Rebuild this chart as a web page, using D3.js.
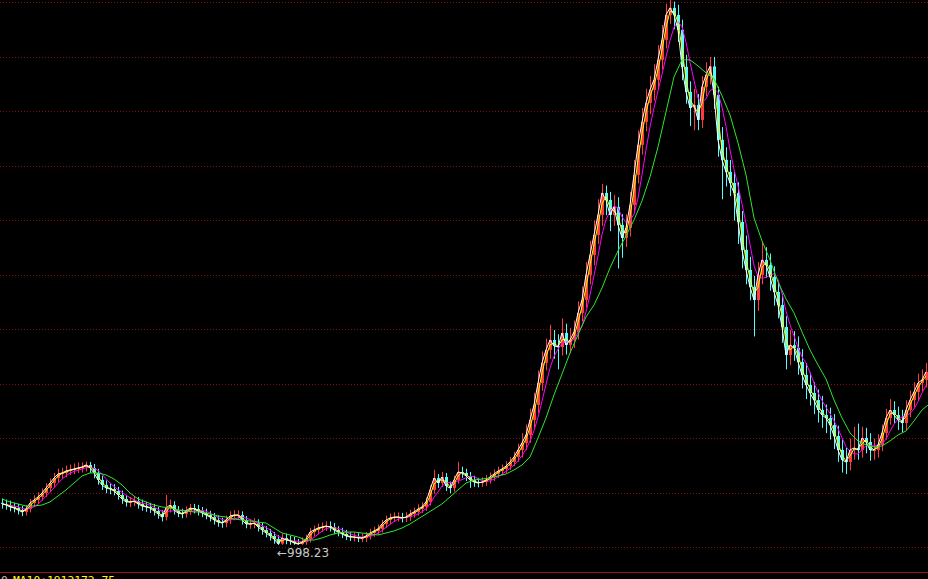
<!DOCTYPE html>
<html><head><meta charset="utf-8">
<script src="https://cdn.jsdelivr.net/npm/d3@7"></script>
<style>html,body{margin:0;padding:0;background:#000;overflow:hidden}</style>
</head><body>
<svg id="c" width="928" height="579"></svg>
<script>
// Index closes (one candle ~ 6 trading days), late 2003 .. spring 2009
const firstOpen = 1395;
const closes = [1384,1374,1356,1346,1327,1309,1337,1393,1421,1450,
1487,1534,1581,1628,1666,1676,1694,1704,1713,1723,
1732,1751,1723,1676,1610,1563,1534,1525,1506,1469,
1431,1403,1403,1412,1384,1365,1356,1346,1318,1290,
1261,1346,1374,1327,1299,1290,1318,1346,1337,1318,
1299,1280,1261,1233,1214,1205,1233,1271,1280,1280,
1233,1196,1196,1205,1167,1139,1111,1083,1054,1010,
1064,1045,1036,1017,1007,1026,1054,1120,1139,1158,
1167,1177,1167,1139,1120,1102,1083,1073,1073,1064,
1064,1083,1111,1130,1149,1196,1233,1252,1261,1261,
1252,1261,1290,1309,1337,1356,1403,1516,1628,1581,
1638,1553,1534,1610,1685,1676,1647,1610,1591,1581,
1591,1610,1638,1666,1694,1713,1741,1779,1826,1892,
1958,2033,2174,2315,2522,2711,2833,2927,2871,2861,
2993,2880,2927,3002,3181,3303,3539,3727,3915,4103,
4310,4244,4103,4179,4009,3887,3981,4197,4480,4762,
4978,5157,5280,5374,5562,5750,5985,6051,5985,5844,
5496,5261,5110,5138,4997,5308,5421,5500,5233,4809,
4621,4508,4404,4310,4037,3774,3586,3426,3303,3539,
3680,3633,3520,3379,3256,3049,2786,2880,2852,2720,
2598,2504,2428,2362,2268,2221,2193,2127,2024,1892,
1798,1779,1892,1911,1892,2005,1967,1892,1892,1939,
2052,2193,2268,2221,2174,2146,2268,2362,2438,2522,
2551,2626];
const highs = [1435,1425,1415,1395,1385,1365,1375,1430,1465,1495,
1530,1580,1625,1675,1715,1725,1745,1755,1765,1775,
1775,1783,1780,1760,1715,1650,1605,1580,1570,1545,
1510,1470,1450,1455,1450,1425,1405,1395,1385,1355,
1325,1470,1425,1410,1365,1340,1360,1385,1385,1375,
1355,1340,1320,1300,1275,1255,1275,1315,1325,1325,
1315,1270,1240,1250,1240,1205,1175,1150,1120,1090,
1105,1105,1085,1075,1055,1070,1095,1160,1180,1200,
1210,1220,1220,1205,1175,1160,1140,1120,1115,1110,
1105,1120,1150,1170,1190,1235,1275,1295,1305,1305,
1300,1305,1330,1350,1380,1400,1445,1560,1705,1665,
1685,1675,1595,1650,1780,1735,1715,1685,1650,1630,
1635,1655,1680,1710,1735,1755,1785,1825,1875,1950,
2050,2130,2280,2430,2640,2820,2940,3070,3020,2980,
3130,3080,3040,3110,3290,3430,3660,3860,4050,4250,
4395,4380,4320,4290,4270,4110,4110,4320,4620,4900,
5110,5290,5410,5520,5700,5890,6090,6124.04,6110,6080,
5940,5610,5360,5290,5240,5410,5540,5590,5590,5310,
4930,4740,4620,4510,4410,4140,3910,3710,3530,3660,
3850,3800,3740,3620,3480,3360,3150,3020,3010,2960,
2840,2710,2620,2530,2460,2400,2320,2290,2230,2120,
1990,1910,2000,2110,2140,2110,2100,2050,2000,2040,
2130,2280,2370,2350,2300,2270,2360,2450,2530,2610,
2650,2710];
const lows = [1340,1330,1315,1305,1285,1270,1275,1305,1360,1385,
1415,1450,1495,1540,1590,1625,1635,1655,1665,1675,
1680,1690,1675,1625,1565,1515,1485,1475,1465,1425,
1385,1360,1355,1365,1340,1320,1310,1300,1275,1245,
1220,1230,1305,1285,1260,1250,1255,1280,1295,1275,
1260,1240,1220,1190,1170,1160,1165,1195,1230,1235,
1190,1155,1150,1155,1125,1095,1070,1040,1010,998.23,
1000,1005,1000,1000,999,999,1000,1020,1080,1100,
1120,1130,1125,1100,1080,1063,1045,1035,1033,1025,
1025,1027,1050,1075,1095,1115,1160,1195,1215,1220,
1210,1215,1225,1255,1275,1300,1320,1370,1480,1535,
1545,1505,1485,1500,1575,1630,1600,1535,1545,1540,
1545,1555,1575,1600,1630,1655,1675,1705,1740,1780,
1820,1890,1960,2100,2240,2450,2640,2750,2750,2650,
2780,2790,2800,2850,2930,3100,3230,3450,3630,3830,
4000,4100,3950,4000,3600,3700,3800,3900,4120,4400,
4670,4890,5050,5180,5280,5470,5670,5900,5850,5730,
5370,5150,4940,4900,4900,4920,5220,5330,5100,4650,
4250,4370,4280,4050,3830,3600,3450,3300,2960,3200,
3450,3510,3390,3250,3130,2900,2650,2690,2730,2600,
2470,2370,2310,2230,2150,2100,2050,1990,1900,1780,
1680,1664.93,1700,1800,1800,1820,1860,1790,1800,1820,
1880,1990,2130,2140,2080,2060,2080,2200,2290,2360,
2440,2480];
// long moving average (green), one value every 2 candles
const maLong = [1431,1403,1384,1365,1365,1374,1403,1459,1516,1581,
1647,1676,1676,1657,1619,1563,1487,1431,1403,1374,
1356,1346,1327,1318,1309,1309,1290,1271,1261,1243,
1233,1224,1214,1205,1158,1111,1092,1073,1045,1045,
1064,1092,1111,1120,1120,1111,1102,1092,1111,1130,
1158,1196,1243,1290,1337,1384,1450,1516,1581,1610,
1619,1628,1647,1666,1704,1751,1826,2005,2193,2410,
2607,2805,2974,3143,3256,3416,3605,3765,3906,4056,
4235,4461,4743,5073,5402,5562,5562,5505,5440,5383,
5223,5044,4781,4480,4075,3859,3680,3473,3313,3181,
3002,2833,2692,2560,2362,2193,2052,1977,1939,1920,
1930,1977,2033,2071,2165,2268,2330];
const gridValues = [975,1488,2000,2513,3026,3538,4051,4564,5077,5589,6102];
const yDomain = [744, 6125];
const volPrefix = "0";
const volLabel = "MA10:1912172.75";

const W = 928, H = 579, plotBottom = 572;
const svg = d3.select("#c");
svg.append("rect").attr("width", W).attr("height", H).attr("fill", "#000");

const n = closes.length;
const x = d3.scaleLinear().domain([0, n - 1]).range([2, 926]);
const y = d3.scaleLinear().domain(yDomain).range([plotBottom, 0]);

const opens = closes.map((c, i) => i === 0 ? firstOpen : closes[i - 1]);

// dotted grid via pattern
const defs = svg.append("defs");
const pat = defs.append("pattern").attr("id", "dots").attr("patternUnits", "userSpaceOnUse")
  .attr("width", 3).attr("height", 1);
pat.append("rect").attr("width", 1).attr("height", 1).attr("fill", "#8c0c0c");
svg.append("g").selectAll("rect").data(gridValues).join("rect")
  .attr("x", 0).attr("width", W)
  .attr("y", d => Math.round(y(d))).attr("height", 1)
  .attr("fill", "url(#dots)").attr("shape-rendering", "crispEdges");

svg.append("rect").attr("x", 0).attr("width", W).attr("y", plotBottom).attr("height", 1)
  .attr("fill", "#9a1414").attr("shape-rendering", "crispEdges");

defs.append("clipPath").attr("id", "clp").append("rect").attr("width", W).attr("height", plotBottom);
const plot = svg.append("g").attr("clip-path", "url(#clp)");

// candles
const idx = d3.range(n);
const up = i => closes[i] >= opens[i];
plot.append("g").selectAll("line").data(idx).join("line")
  .attr("x1", i => Math.round(x(i)) + 0.5).attr("x2", i => Math.round(x(i)) + 0.5)
  .attr("y1", i => y(highs[i])).attr("y2", i => y(lows[i]))
  .attr("stroke", i => up(i) ? "#ff3c3c" : "#54fcfc").attr("stroke-width", 1);
plot.append("g").selectAll("rect").data(idx).join("rect")
  .attr("x", i => Math.round(x(i)) - 1).attr("width", 3)
  .attr("y", i => y(Math.max(opens[i], closes[i])))
  .attr("height", i => Math.max(1, Math.abs(y(opens[i]) - y(closes[i]))))
  .attr("fill", i => up(i) ? "#ff3c3c" : "#54fcfc");

function rolling(arr, k) {
  return arr.map((v, i) => d3.mean(arr.slice(Math.max(0, i - k + 1), i + 1)));
}
const line = d3.line().x((d, i) => x(i)).y(d => y(d));
const maMid = rolling(closes, 5);
const maShort = rolling(closes, 2);

plot.append("path").attr("d", line(maMid)).attr("fill", "none").attr("stroke", "#ff00ff").attr("stroke-width", 1);
plot.append("path").attr("d", line(maShort)).attr("fill", "none").attr("stroke", "#ffff00").attr("stroke-width", 1);
plot.append("path").attr("d", line(closes)).attr("fill", "none").attr("stroke", "#ffffff").attr("stroke-width", 1);
plot.append("path").attr("d", d3.line().x((d, i) => x(i * 2)).y(d => y(d))(maLong))
  .attr("fill", "none").attr("stroke", "#2ee62e").attr("stroke-width", 1);

// low annotation
const lowIdx = d3.minIndex(lows);
svg.append("text")
  .attr("x", x(lowIdx) - 1).attr("y", y(lows[lowIdx]) + 12)
  .attr("fill", "#c8c8c8").attr("font-family", "DejaVu Sans, sans-serif").attr("font-size", 12)
  .text("\u2190" + d3.format(".2f")(lows[lowIdx]));

// volume panel header (cut at bottom edge, as in the reference)
const vt = svg.append("text").attr("y", 583.7)
  .attr("font-family", "DejaVu Sans Mono, monospace").attr("font-size", 11.3);
vt.append("tspan").attr("x", 1).attr("fill", "#c0c0c0").text(volPrefix);
vt.append("tspan").attr("x", 13).attr("fill", "#ffff00").text(volLabel);
</script>
</body></html>
